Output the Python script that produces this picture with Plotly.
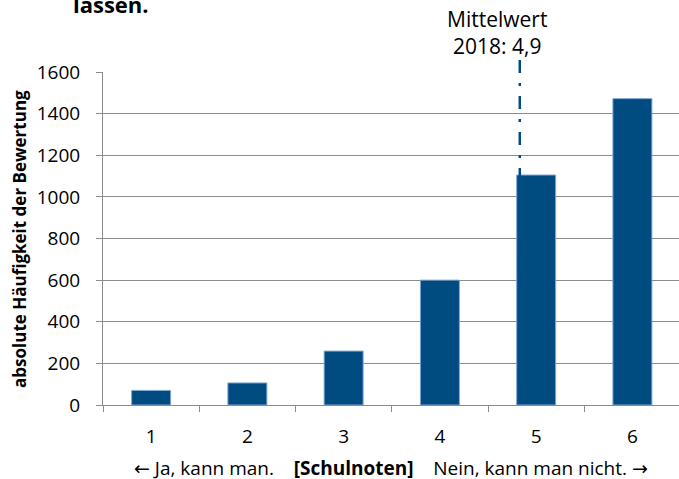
import plotly.graph_objects as go

# Schulnoten 1..6 und absolute Häufigkeit der Bewertung
noten = ["1", "2", "3", "4", "5", "6"]
haeufigkeit = [70, 106, 259, 600, 1105, 1472]

# Mittelwert-Linie (Position wie im Bild, Beschriftung 4,9)
mittelwert_pos = 3.83          # Kategorie-Index (0 = Note 1)
mittelwert_text = "Mittelwert<br>2018: 4,9"

y_ticks = [0, 200, 400, 600, 800, 1000, 1200, 1400, 1600]

BLUE = "#004B80"
GRID = "#8C8C8C"
FONT = "Open Sans"
ARROW = '<span style="font-family:DejaVu Sans">{}</span>'

fig = go.Figure()
fig.add_trace(go.Bar(
    x=noten, y=haeufigkeit,
    marker=dict(color=BLUE, line=dict(color="#7EA6D6", width=1)),
    showlegend=False, hoverinfo="x+y",
))

# gestrichelte Linie, Muster beginnt oben
fig.add_shape(
    type="line", xref="x", yref="paper",
    x0=mittelwert_pos, x1=mittelwert_pos, y0=1.036, y1=-0.004,
    line=dict(color=BLUE, width=2.5, dash="13px,10px,3px,10px"),
)

fig.add_annotation(
    text=mittelwert_text, xref="paper", yref="paper",
    x=0.684, y=1.12, xanchor="center", yanchor="middle",
    showarrow=False, align="center",
    font=dict(family=FONT, size=21, color="#000"),
)
fig.add_annotation(
    text="<b>lassen.</b>", xref="paper", yref="paper",
    x=-0.055, y=1.205, xanchor="left", yanchor="middle", showarrow=False,
    font=dict(family=FONT, size=22, color="#000"),
)
fig.add_annotation(
    text="absolute Häufigkeit der Bewertung", xref="paper", yref="paper",
    x=-0.145, y=0.5, xanchor="center", yanchor="middle",
    textangle=-90, showarrow=False,
    font=dict(family=FONT, size=17, color="#000", weight="bold"),
)
fig.add_annotation(
    text=(ARROW.format("←") + " Ja, kann man.    <b>[Schulnoten]</b>    "
          "Nein, kann man nicht. " + ARROW.format("→")),
    xref="paper", yref="paper", x=0.5, y=-0.19,
    xanchor="center", yanchor="middle", showarrow=False,
    font=dict(family=FONT, size=19, color="#000"),
)

fig.update_layout(
    width=679, height=479,
    margin=dict(l=103, r=0, t=72, b=74),
    plot_bgcolor="white", paper_bgcolor="white",
    bargap=0.595,
    font=dict(family=FONT, size=19, color="#000"),
    xaxis=dict(
        type="category", range=[-0.5, 5.484],
        tickson="boundaries", ticks="outside", ticklen=6, tickcolor=GRID,
        showgrid=False, showline=True, linecolor=GRID, linewidth=1,
        ticklabelstandoff=14,
    ),
    yaxis=dict(
        range=[0, 1600], tickvals=y_ticks,
        ticks="outside", ticklen=6, tickcolor=GRID,
        showgrid=True, gridcolor=GRID, gridwidth=1,
        showline=True, linecolor=GRID, linewidth=1,
        zeroline=False, ticklabelstandoff=12,
    ),
)

# Seitenrand des Browsers entfernen, damit die Grafik bei (0,0) beginnt
fig.write_html("out.html", config={"displayModeBar": False},
               post_script="document.body.style.margin='0';")
